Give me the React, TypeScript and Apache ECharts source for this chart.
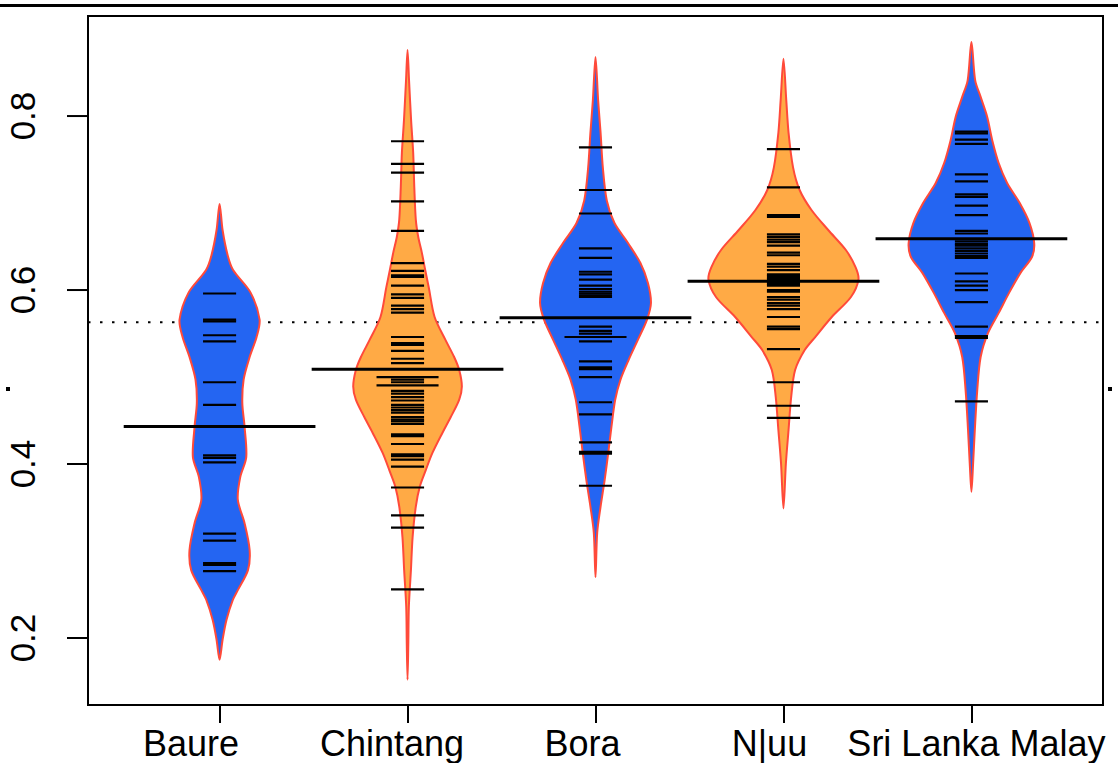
import React, { useEffect, useRef } from "react";
import * as echarts from "echarts";

const categories = ["Baure", "Chintang", "Bora", "N|uu", "Sri Lanka Malay"];
const beanFill = ["#2465F2", "#FFAA45", "#2465F2", "#FFAA45", "#2465F2"];
const yTicks = [0.2, 0.4, 0.6, 0.8];
const xTicks = [0, 1, 2, 3, 4];

const baureValues = [0.596, 0.566, 0.564, 0.548, 0.541, 0.494, 0.468, 0.41, 0.407, 0.402, 0.32, 0.312, 0.286, 0.284, 0.277];
const chintangValues = [0.771, 0.745, 0.735, 0.702, 0.668, 0.631, 0.622, 0.617, 0.615, 0.605, 0.595, 0.591, 0.582, 0.578, 0.574, 0.546, 0.539, 0.537, 0.53, 0.521, 0.516, 0.5, 0.5, 0.497, 0.494, 0.4905, 0.4905, 0.484, 0.481, 0.477, 0.473, 0.468, 0.465, 0.462, 0.459, 0.454, 0.451, 0.449, 0.446, 0.434, 0.432, 0.423, 0.411, 0.409, 0.405, 0.397, 0.373, 0.341, 0.327, 0.256];
const boraValues = [0.764, 0.715, 0.688, 0.648, 0.637, 0.621, 0.618, 0.612, 0.605, 0.601, 0.598, 0.596, 0.594, 0.592, 0.558, 0.553, 0.55, 0.546, 0.546, 0.541, 0.518, 0.511, 0.509, 0.5, 0.471, 0.457, 0.425, 0.414, 0.412, 0.375];
const nuuValues = [0.762, 0.718, 0.686, 0.684, 0.664, 0.661, 0.658, 0.655, 0.651, 0.643, 0.64, 0.63, 0.627, 0.623, 0.618, 0.616, 0.614, 0.612, 0.609, 0.607, 0.605, 0.6, 0.598, 0.592, 0.589, 0.585, 0.582, 0.578, 0.569, 0.558, 0.555, 0.532, 0.494, 0.467, 0.453];
const slmValues = [0.782, 0.78, 0.773, 0.768, 0.733, 0.725, 0.71, 0.707, 0.697, 0.686, 0.668, 0.665, 0.656, 0.653, 0.651, 0.648, 0.645, 0.642, 0.639, 0.637, 0.619, 0.61, 0.605, 0.6, 0.586, 0.558, 0.547, 0.545, 0.472];

const groupMeans = [0.443, 0.509, 0.568, 0.61, 0.659];
const overallMean = 0.563;

// bean outline: [value, half width in x-axis units], top to bottom
const baureProfile: [number, number][] = [
  [0.699, 0], [0.669, 0.016], [0.64, 0.043], [0.623, 0.072], [0.597, 0.165], [0.566, 0.213], [0.546, 0.197],
  [0.523, 0.16], [0.497, 0.128], [0.47, 0.121], [0.443, 0.133], [0.408, 0.142], [0.385, 0.11], [0.359, 0.097],
  [0.332, 0.133], [0.301, 0.16], [0.278, 0.151], [0.255, 0.097], [0.244, 0.071], [0.221, 0.037], [0.198, 0.016], [0.175, 0],
];
const chintangProfile: [number, number][] = [
  [0.876, 0], [0.841, 0.008], [0.795, 0.019], [0.758, 0.03], [0.718, 0.036], [0.681, 0.044], [0.661, 0.057],
  [0.643, 0.076], [0.623, 0.094], [0.603, 0.113], [0.569, 0.144], [0.543, 0.201], [0.523, 0.248], [0.508, 0.275],
  [0.489, 0.289], [0.474, 0.275], [0.454, 0.23], [0.436, 0.186], [0.413, 0.133], [0.393, 0.097], [0.374, 0.065],
  [0.351, 0.044], [0.316, 0.027], [0.278, 0.018], [0.236, 0.007], [0.192, 0.004], [0.152, 0],
];
const boraProfile: [number, number][] = [
  [0.868, 0], [0.818, 0.014], [0.781, 0.027], [0.741, 0.039], [0.703, 0.06], [0.677, 0.101], [0.654, 0.173],
  [0.631, 0.239], [0.608, 0.279], [0.585, 0.295], [0.566, 0.274], [0.543, 0.226], [0.52, 0.177], [0.497, 0.133],
  [0.474, 0.105], [0.443, 0.085], [0.413, 0.068], [0.382, 0.049], [0.351, 0.027], [0.321, 0.009], [0.27, 0],
];
const nuuProfile: [number, number][] = [
  [0.866, 0], [0.818, 0.015], [0.781, 0.027], [0.741, 0.051], [0.715, 0.086], [0.692, 0.149], [0.669, 0.238],
  [0.646, 0.332], [0.626, 0.384], [0.612, 0.399], [0.592, 0.359], [0.569, 0.257], [0.546, 0.169], [0.531, 0.113],
  [0.508, 0.062], [0.477, 0.041], [0.439, 0.027], [0.401, 0.013], [0.349, 0],
];
const slmProfile: [number, number][] = [
  [0.885, 0], [0.841, 0.02], [0.822, 0.049], [0.799, 0.084], [0.772, 0.111], [0.746, 0.145], [0.723, 0.19],
  [0.7, 0.257], [0.677, 0.309], [0.654, 0.334], [0.638, 0.322], [0.62, 0.262], [0.597, 0.201], [0.574, 0.146],
  [0.551, 0.089], [0.523, 0.049], [0.485, 0.031], [0.439, 0.018], [0.401, 0.009], [0.368, 0],
];

const groupValues = [baureValues, chintangValues, boraValues, nuuValues, slmValues];
const profiles = [baureProfile, chintangProfile, boraProfile, nuuProfile, slmProfile];

const FONT = "Liberation Sans, Arial, Helvetica, sans-serif";
// horizontal label paddings [top, right, bottom, left] to follow the reference's label placement
const labelPads = [[0, 57, 0, 0], [0, 31, 0, 0], [0, 26, 0, 0], [0, 28, 0, 0], [0, 0, 0, 10]];

export default function App() {
  const ref = useRef<HTMLDivElement>(null);
  useEffect(() => {
    if (!ref.current) return;
    const chart = echarts.init(ref.current, undefined, { renderer: "svg" });

    const lineData: number[][] = [];
    groupValues.forEach((vals, i) => {
      const counts: Record<string, number> = {};
      vals.forEach((v) => (counts[String(v)] = (counts[String(v)] || 0) + 1));
      Object.keys(counts).forEach((k) => lineData.push([i, Number(k), counts[k]]));
    });

    const rich: any = {};
    labelPads.forEach((p, i) => {
      rich["c" + i] = { padding: p, fontSize: 36, fontFamily: FONT, color: "#000", lineHeight: 30 };
    });

    const option: any = {
      animation: false,
      backgroundColor: "#fff",
      grid: {
        left: 88, top: 16, right: 15, bottom: 58,
        show: true, borderColor: "#000", borderWidth: 2, backgroundColor: "transparent",
      },
      xAxis: {
        type: "value", min: -0.7, max: 4.7,
        axisLine: { show: true, onZero: false, lineStyle: { color: "#000", width: 2 } },
        splitLine: { show: false },
        axisTick: { show: true, customValues: xTicks, length: 18, lineStyle: { color: "#000", width: 2 } },
        axisLabel: {
          customValues: xTicks,
          formatter: (v: number) => {
            const i = Math.round(v);
            return "{c" + i + "|" + categories[i] + "}";
          },
          rich,
          fontSize: 36, fontFamily: FONT, color: "#000", margin: 23, lineHeight: 30,
        },
      },
      yAxis: {
        type: "value", min: 0.123, max: 0.915,
        axisLine: { show: true, onZero: false, lineStyle: { color: "#000", width: 2 } },
        splitLine: { show: false },
        axisTick: { show: false },
        axisLabel: {
          customValues: yTicks, formatter: (v: number) => v.toFixed(1), rotate: 90,
          fontSize: 35, fontFamily: FONT, color: "#000", margin: 48, lineHeight: 35,
        },
      },
      graphic: [
        { type: "rect", shape: { x: 0, y: 4, width: 1118, height: 3 }, style: { fill: "#000" } },
        { type: "rect", shape: { x: 6, y: 387, width: 4, height: 4 }, style: { fill: "#000" } },
        { type: "rect", shape: { x: 1108, y: 387, width: 4, height: 4 }, style: { fill: "#000" } },
      ],
      series: [
        {
          type: "line", data: [[-0.7, overallMean], [4.7, overallMean]], symbol: "none", silent: true,
          lineStyle: { color: "#000", width: 2, type: [2.5, 9.5] }, z: 1,
        },
        {
          // y-axis tick marks, outside the plot frame
          type: "custom", coordinateSystem: "cartesian2d", z: 5, clip: false,
          data: yTicks.map((t) => [-0.7, t]),
          encode: { x: 0, y: 1 },
          renderItem: (params: any, api: any) => {
            const p = api.coord([api.value(0), api.value(1)]);
            return {
              type: "line",
              shape: { x1: p[0] - 21, y1: p[1], x2: p[0], y2: p[1] },
              style: { stroke: "#000", lineWidth: 2 },
            };
          },
        },
        {
          type: "custom", coordinateSystem: "cartesian2d", z: 2,
          data: groupMeans.map((m, i) => [i, m]),
          encode: { x: 0, y: 1 },
          renderItem: (params: any, api: any) => {
            const i = params.dataIndex;
            const prof = profiles[i];
            const pts: number[][] = [];
            for (const [v, w] of prof) pts.push(api.coord([i + w, v]));
            for (let k = prof.length - 2; k >= 1; k--) pts.push(api.coord([i - prof[k][1], prof[k][0]]));
            return {
              type: "polygon",
              shape: { points: pts, smooth: 0.3 },
              style: { fill: beanFill[i], stroke: "#FF4A3A", lineWidth: 2 },
            };
          },
        },
        {
          type: "custom", coordinateSystem: "cartesian2d", z: 3,
          data: lineData,
          encode: { x: 0, y: 1 },
          renderItem: (params: any, api: any) => {
            const i = api.value(0);
            const v = api.value(1);
            const c = api.value(2);
            const hw = c > 1 ? 0.165 : 0.088;
            const a = api.coord([i - hw, v]);
            const b = api.coord([i + hw, v]);
            return {
              type: "line",
              shape: { x1: a[0], y1: a[1], x2: b[0], y2: b[1] },
              style: { stroke: "#000", lineWidth: 2.2 },
            };
          },
        },
        {
          type: "custom", coordinateSystem: "cartesian2d", z: 4,
          data: groupMeans.map((m, i) => [i, m]),
          encode: { x: 0, y: 1 },
          renderItem: (params: any, api: any) => {
            const i = api.value(0);
            const v = api.value(1);
            const a = api.coord([i - 0.51, v]);
            const b = api.coord([i + 0.51, v]);
            return {
              type: "line",
              shape: { x1: a[0], y1: a[1], x2: b[0], y2: b[1] },
              style: { stroke: "#000", lineWidth: 3 },
            };
          },
        },
      ],
    };
    chart.setOption(option);
    return () => chart.dispose();
  }, []);
  return (
    <div
      ref={ref}
      style={{ position: "fixed", left: 0, top: 0, width: 1118, height: 763, background: "#fff" }}
    />
  );
}
